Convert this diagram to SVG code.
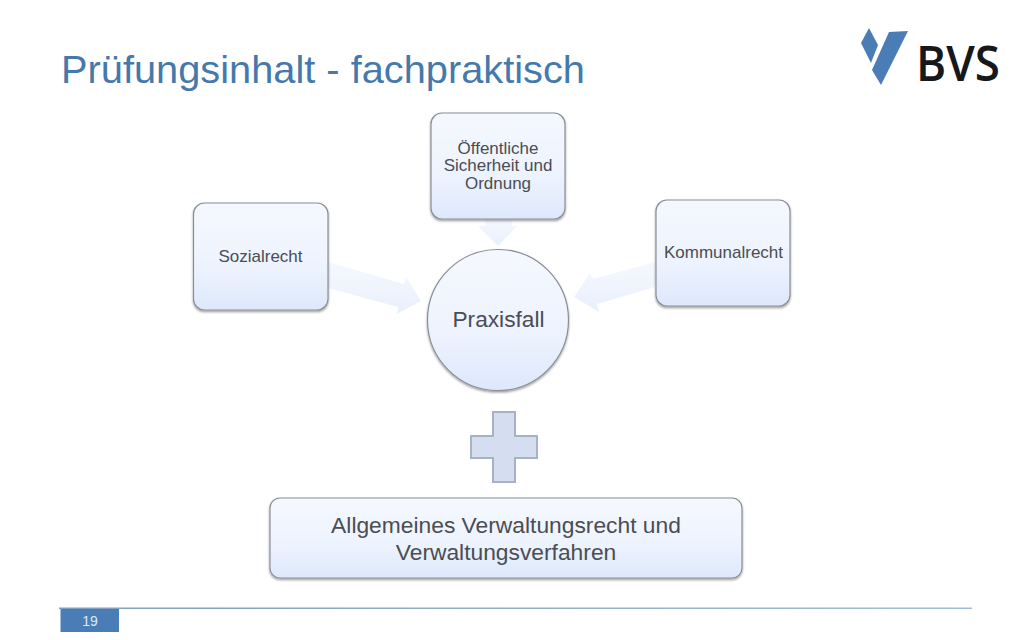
<svg xmlns="http://www.w3.org/2000/svg" width="1024" height="640" viewBox="0 0 1024 640">
<style>
text{font-family:"Liberation Sans",Arial,sans-serif;text-anchor:middle;fill:#4a4d54}
.box{fill:url(#g);stroke:#8a8f96;stroke-width:1.2;filter:url(#s)}
.arrow{fill:url(#a);stroke:none}
.small{font-size:17px}
.big{font-size:22.8px}
</style>
<defs>
<linearGradient id="g" x1="0" y1="0" x2="0" y2="1"><stop offset="0" stop-color="#f5f8fe"/><stop offset="0.6" stop-color="#edf3fe"/><stop offset="1" stop-color="#dde8fb"/></linearGradient>
<linearGradient id="a" x1="0" y1="0" x2="0" y2="1"><stop offset="0" stop-color="#f5f8fe"/><stop offset="1" stop-color="#e9f0fc"/></linearGradient>
<linearGradient id="fl" x1="0" y1="0" x2="1" y2="0"><stop offset="0" stop-color="#7f9fc0"/><stop offset="1" stop-color="#a3bdd8"/></linearGradient>
<filter id="s" x="-10%" y="-10%" width="120%" height="125%"><feDropShadow dx="0" dy="1.5" stdDeviation="1.2" flood-color="#000" flood-opacity="0.4"/></filter>
</defs>
<rect width="1024" height="640" fill="#fff"/>
<text id="title" x="61" y="83" style="text-anchor:start;fill:#4679ab;font-size:39px" textLength="524" lengthAdjust="spacingAndGlyphs">Prüfungsinhalt - fachpraktisch</text>
<g id="logo">
<polygon points="869,28 878,45 871,63 861,43" fill="#4a7db5"/>
<polygon points="889,32 908,31 881,85 872,70" fill="#4a7db5"/>
<text x="958" y="81" style="font-family:'Open Sans',sans-serif;font-size:49px;font-weight:600;fill:#16181a" textLength="84" lengthAdjust="spacingAndGlyphs">BVS</text>
</g>
<g id="connectors">
<polygon class="arrow" points="328,262 404,284 406,277 421,301 397,314 398,307 328,288"/>
<polygon class="arrow" points="485,219 512,219 512,226 517,226 498,246 478,226 485,226"/>
<polygon class="arrow" points="655,262 593,279 590,273 574,297 599,312 597,304 655,287"/>
</g>
<g id="n-sozialrecht"><rect class="box" x="193.5" y="203" width="134.5" height="107" rx="11"/><text class="small" x="260.500" y="262">Sozialrecht</text></g>
<g id="n-oeffentlich"><rect class="box" x="431" y="113" width="134" height="106" rx="11"/><text class="small" x="498" y="154">Öffentliche</text><text class="small" x="498" y="171">Sicherheit und</text><text class="small" x="498" y="189">Ordnung</text></g>
<g id="n-kommunalrecht"><rect class="box" x="656" y="200" width="134" height="106" rx="11"/><text class="small" x="723.5" y="258">Kommunalrecht</text></g>
<g id="n-praxisfall"><circle class="box" cx="498" cy="320" r="70.5"/><text x="498.500" y="327" style="font-size:22.700px">Praxisfall</text></g>
<g id="plus"><polygon points="493,412 515,412 515,436 537,436 537,458 515,458 515,482 493,482 493,458 471,458 471,436 493,436" fill="#d4def0" stroke="#a9b2c5" stroke-width="2"/></g>
<g id="n-allgemein"><rect class="box" x="270" y="498" width="472" height="80" rx="10"/><text class="big" x="506" y="533">Allgemeines Verwaltungsrecht und</text><text class="big" x="506" y="560">Verwaltungsverfahren</text></g>
<g id="footer"><rect x="59" y="607.500" width="913" height="1.500" fill="url(#fl)"/><rect x="60.500" y="609" width="58.500" height="23" fill="#4a7db5"/><text x="90" y="626" style="fill:#dfe8f3;font-size:14px">19</text></g>
</svg>
